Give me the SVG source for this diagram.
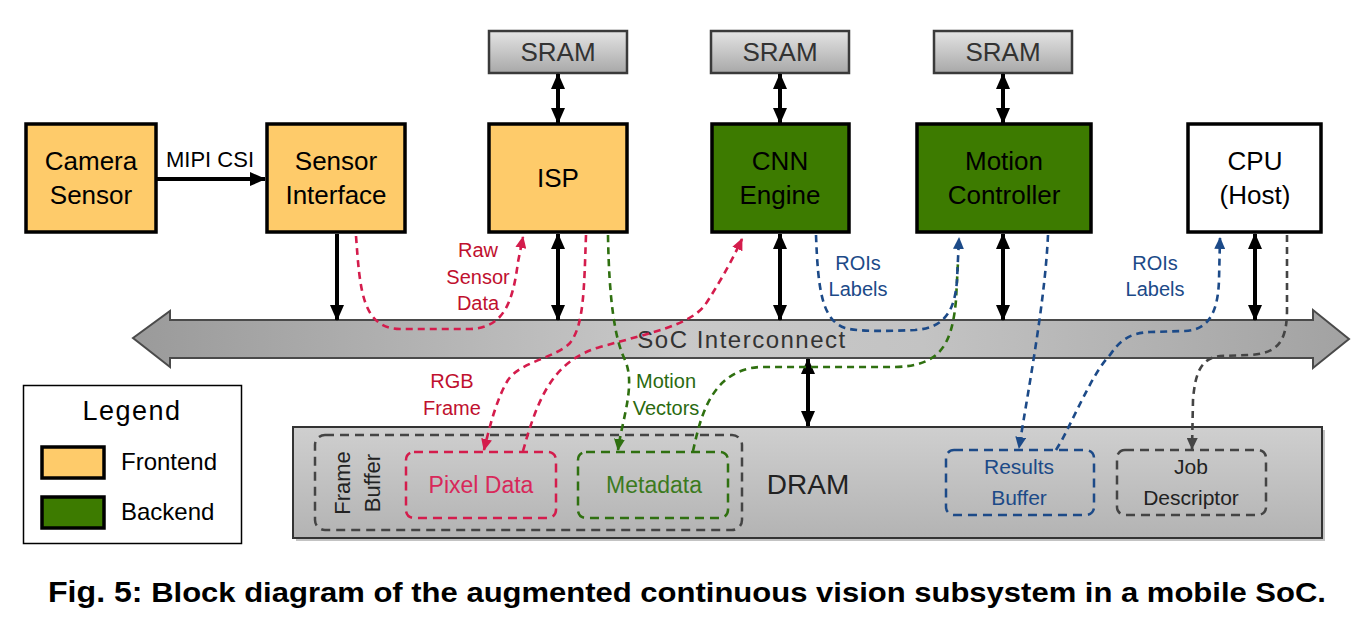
<svg xmlns="http://www.w3.org/2000/svg" width="1351" height="618" viewBox="0 0 1351 618">
<defs>
<linearGradient id="gBus" x1="0" y1="0" x2="1" y2="0">
<stop offset="0" stop-color="#9a9a9a"/>
<stop offset="0.45" stop-color="#c9c9c9"/>
<stop offset="0.65" stop-color="#c3c3c3"/>
<stop offset="1" stop-color="#a2a2a2"/>
</linearGradient>
<linearGradient id="gSram" x1="0" y1="0" x2="0" y2="1">
<stop offset="0" stop-color="#e4e4e4"/>
<stop offset="1" stop-color="#a8a8a8"/>
</linearGradient>
<linearGradient id="gDram" x1="0" y1="0" x2="0" y2="1">
<stop offset="0" stop-color="#cfcfcf"/>
<stop offset="1" stop-color="#b3b3b3"/>
</linearGradient>
<marker id="mBlk" markerUnits="userSpaceOnUse" markerWidth="16" markerHeight="14" refX="15" refY="7" orient="auto-start-reverse"><path d="M0,0 L16,7 L0,14 z" fill="#000"/></marker>
<marker id="mRed" markerUnits="userSpaceOnUse" markerWidth="12" markerHeight="11" refX="11" refY="5.5" orient="auto"><path d="M0,0 L12,5.5 L0,11 z" fill="#d41c4c"/></marker>
<marker id="mGrn" markerUnits="userSpaceOnUse" markerWidth="12" markerHeight="11" refX="11" refY="5.5" orient="auto"><path d="M0,0 L12,5.5 L0,11 z" fill="#2f7010"/></marker>
<marker id="mBlu" markerUnits="userSpaceOnUse" markerWidth="12" markerHeight="11" refX="11" refY="5.5" orient="auto"><path d="M0,0 L12,5.5 L0,11 z" fill="#1c4a88"/></marker>
<marker id="mGry" markerUnits="userSpaceOnUse" markerWidth="12" markerHeight="11" refX="11" refY="5.5" orient="auto"><path d="M0,0 L12,5.5 L0,11 z" fill="#444"/></marker>
</defs>
<style>
text{font-family:"Liberation Sans",Arial,sans-serif}
.box{stroke:#000;stroke-width:3.5}
.fe{fill:#fecb6a}
.be{fill:#3d7b00}
.wh{fill:#fff}
.sram{fill:url(#gSram);stroke:#3a3a3a;stroke-width:2.5}
.nt{font-size:26px;text-anchor:middle;fill:#000}
.st{font-size:26px;text-anchor:middle;fill:#333}
.lbl{font-size:20px;text-anchor:middle}
.solid{fill:none;stroke:#000;stroke-width:4}
.dash{fill:none;stroke-width:2.6;stroke-dasharray:7 5}
.red{stroke:#d41c4c}
.grn{stroke:#2f7010}
.blu{stroke:#1c4a88}
.gry{stroke:#444}
.inbox{fill:none;stroke-width:2.5;stroke-dasharray:9 6}
</style>
<rect width="1351" height="618" fill="#fff"/>

<g id="interconnect">
<path d="M133 338 L170 311 L170 320 L1313 320 L1313 310 L1349 339 L1313 368 L1313 358 L170 358 L170 367 Z" fill="url(#gBus)" stroke="#4a4a4a" stroke-width="2"/>
<text x="742" y="348" font-size="24" letter-spacing="1.5" text-anchor="middle" fill="#333">SoC Interconnect</text>
</g>

<g id="dram">
<rect x="296" y="430" width="1029" height="111" fill="#888" opacity="0.5"/>
<rect x="293" y="427" width="1029" height="111" fill="url(#gDram)" stroke="#333" stroke-width="2"/>
<text x="808" y="494" font-size="28" text-anchor="middle" fill="#222">DRAM</text>
</g>

<g id="frame-buffer">
<rect x="315" y="435" width="427" height="95" rx="10" class="inbox gry"/>
<text transform="translate(350,483) rotate(-90)" font-size="22" text-anchor="middle" fill="#222">Frame</text>
<text transform="translate(380,483) rotate(-90)" font-size="22" text-anchor="middle" fill="#222">Buffer</text>
</g>

<g id="pixel-data">
<rect x="406" y="452" width="150" height="66" rx="8" class="inbox red"/>
<text x="481" y="493" font-size="23" text-anchor="middle" fill="#d8285a">Pixel Data</text>
</g>

<g id="metadata">
<rect x="578" y="452" width="150" height="66" rx="8" class="inbox grn"/>
<text x="654" y="493" font-size="23" text-anchor="middle" fill="#3c7a1e">Metadata</text>
</g>

<g id="results-buffer">
<rect x="946" y="450" width="148" height="65" rx="8" class="inbox blu"/>
<text x="1019" y="474" font-size="21" text-anchor="middle" fill="#1c4a88">Results</text>
<text x="1019" y="505" font-size="21" text-anchor="middle" fill="#1c4a88">Buffer</text>
</g>

<g id="job-descriptor">
<rect x="1117" y="450" width="149" height="65" rx="8" class="inbox gry"/>
<text x="1191" y="474" font-size="21" text-anchor="middle" fill="#222">Job</text>
<text x="1191" y="505" font-size="21" text-anchor="middle" fill="#222">Descriptor</text>
</g>

<g id="camera-sensor">
<rect x="26" y="124" width="130" height="108" class="box fe"/>
<text x="91" y="170" class="nt">Camera</text>
<text x="91" y="204" class="nt">Sensor</text>
</g>

<g id="sensor-interface">
<rect x="267" y="124" width="138" height="108" class="box fe"/>
<text x="336" y="170" class="nt">Sensor</text>
<text x="336" y="204" class="nt">Interface</text>
</g>

<g id="isp">
<rect x="489" y="124" width="138" height="108" class="box fe"/>
<text x="558" y="187" class="nt">ISP</text>
</g>

<g id="cnn-engine">
<rect x="712" y="124" width="137" height="108" class="box be"/>
<text x="780" y="170" class="nt">CNN</text>
<text x="780" y="204" class="nt">Engine</text>
</g>

<g id="motion-controller">
<rect x="917" y="124" width="174" height="108" class="box be"/>
<text x="1004" y="170" class="nt">Motion</text>
<text x="1004" y="204" class="nt">Controller</text>
</g>

<g id="cpu-host">
<rect x="1188" y="124" width="133" height="108" class="box wh"/>
<text x="1255" y="170" class="nt">CPU</text>
<text x="1255" y="204" class="nt">(Host)</text>
</g>

<g id="sram-isp">
<rect x="489" y="31" width="138" height="42" class="sram"/>
<text x="558" y="61" class="st">SRAM</text>
</g>
<g id="sram-cnn">
<rect x="711" y="31" width="138" height="42" class="sram"/>
<text x="780" y="61" class="st">SRAM</text>
</g>
<g id="sram-motion">
<rect x="934" y="31" width="138" height="42" class="sram"/>
<text x="1003" y="61" class="st">SRAM</text>
</g>

<g id="connectors">
<line x1="157" y1="179" x2="265" y2="179" class="solid" marker-end="url(#mBlk)"/>
<text x="210" y="167" font-size="22" text-anchor="middle" fill="#000">MIPI CSI</text>
<line x1="337" y1="234" x2="337" y2="320" class="solid" marker-end="url(#mBlk)"/>
<line x1="558" y1="234" x2="558" y2="320" class="solid" marker-start="url(#mBlk)" marker-end="url(#mBlk)"/>
<line x1="780" y1="234" x2="780" y2="320" class="solid" marker-start="url(#mBlk)" marker-end="url(#mBlk)"/>
<line x1="1003" y1="234" x2="1003" y2="320" class="solid" marker-start="url(#mBlk)" marker-end="url(#mBlk)"/>
<line x1="1255" y1="234" x2="1255" y2="320" class="solid" marker-start="url(#mBlk)" marker-end="url(#mBlk)"/>
<line x1="808" y1="359" x2="808" y2="426" class="solid" marker-start="url(#mBlk)" marker-end="url(#mBlk)"/>
<line x1="558" y1="74" x2="558" y2="123" class="solid" marker-start="url(#mBlk)" marker-end="url(#mBlk)"/>
<line x1="780" y1="74" x2="780" y2="123" class="solid" marker-start="url(#mBlk)" marker-end="url(#mBlk)"/>
<line x1="1003" y1="74" x2="1003" y2="123" class="solid" marker-start="url(#mBlk)" marker-end="url(#mBlk)"/>

<path d="M356 236 C360 290 362 328 400 329 L470 329 C505 328 513 300 518 262 L523 237" class="dash red" marker-end="url(#mRed)"/>
<path d="M586 235 C584 290 584 325 570 343 C555 358 520 362 508 380 C497 398 490 425 484 450" class="dash red" marker-end="url(#mRed)"/>
<path d="M523 451 L527 437 C540 395 555 360 600 347 C650 333 690 325 705 305 C715 290 730 265 742 239" class="dash red" marker-end="url(#mRed)"/>
<path d="M608 235 C609 300 615 340 625 360 C636 385 622 420 618 450" class="dash grn" marker-end="url(#mGrn)"/>
<path d="M693 451 C700 420 710 370 760 367 L895 367 C940 366 952 345 956 300 L958 262" class="dash grn"/>
<path d="M816 235 C818 290 822 320 845 328 C860 332 890 331 915 330 C945 328 955 310 957 280 L959 238" class="dash blu" marker-end="url(#mBlu)"/>
<path d="M1048 235 C1045 300 1030 380 1019 448" class="dash blu" marker-end="url(#mBlu)"/>
<path d="M1056 450 L1062 440 C1080 405 1095 370 1110 355 C1120 340 1130 333 1150 332 L1185 331 C1210 330 1218 310 1219 280 L1220 238" class="dash blu" marker-end="url(#mBlu)"/>
<path d="M1287 235 L1287 310 C1287 345 1275 353 1250 355 L1220 356 C1200 358 1195 375 1193 400 L1192 449" class="dash gry" marker-end="url(#mGry)"/>

<text x="478" y="257" class="lbl" fill="#c0102e">Raw</text>
<text x="478" y="284" class="lbl" fill="#c0102e">Sensor</text>
<text x="478" y="310" class="lbl" fill="#c0102e">Data</text>
<text x="452" y="388" class="lbl" fill="#c0102e">RGB</text>
<text x="452" y="415" class="lbl" fill="#c0102e">Frame</text>
<text x="666" y="388" class="lbl" fill="#2a6a10">Motion</text>
<text x="666" y="415" class="lbl" fill="#2a6a10">Vectors</text>
<text x="858" y="270" class="lbl" fill="#1c4a88">ROIs</text>
<text x="858" y="296" class="lbl" fill="#1c4a88">Labels</text>
<text x="1155" y="270" class="lbl" fill="#1c4a88">ROIs</text>
<text x="1155" y="296" class="lbl" fill="#1c4a88">Labels</text>
</g>

<g id="legend">
<rect x="23.5" y="385.5" width="218" height="158" fill="#fff" stroke="#000" stroke-width="1.5"/>
<text x="132" y="420" font-size="27" letter-spacing="1.5" text-anchor="middle" fill="#000">Legend</text>
<rect x="42" y="447" width="62" height="31" class="box fe"/>
<text x="121" y="470" font-size="24" fill="#000">Frontend</text>
<rect x="42" y="497" width="62" height="31" class="box be"/>
<text x="121" y="520" font-size="24" fill="#000">Backend</text>
</g>

<text x="48" y="602" font-size="28" font-weight="bold" fill="#000" textLength="1278" lengthAdjust="spacingAndGlyphs"><tspan font-size="29">Fig. 5:</tspan> Block diagram of the augmented continuous vision subsystem in a mobile SoC.</text>
</svg>
